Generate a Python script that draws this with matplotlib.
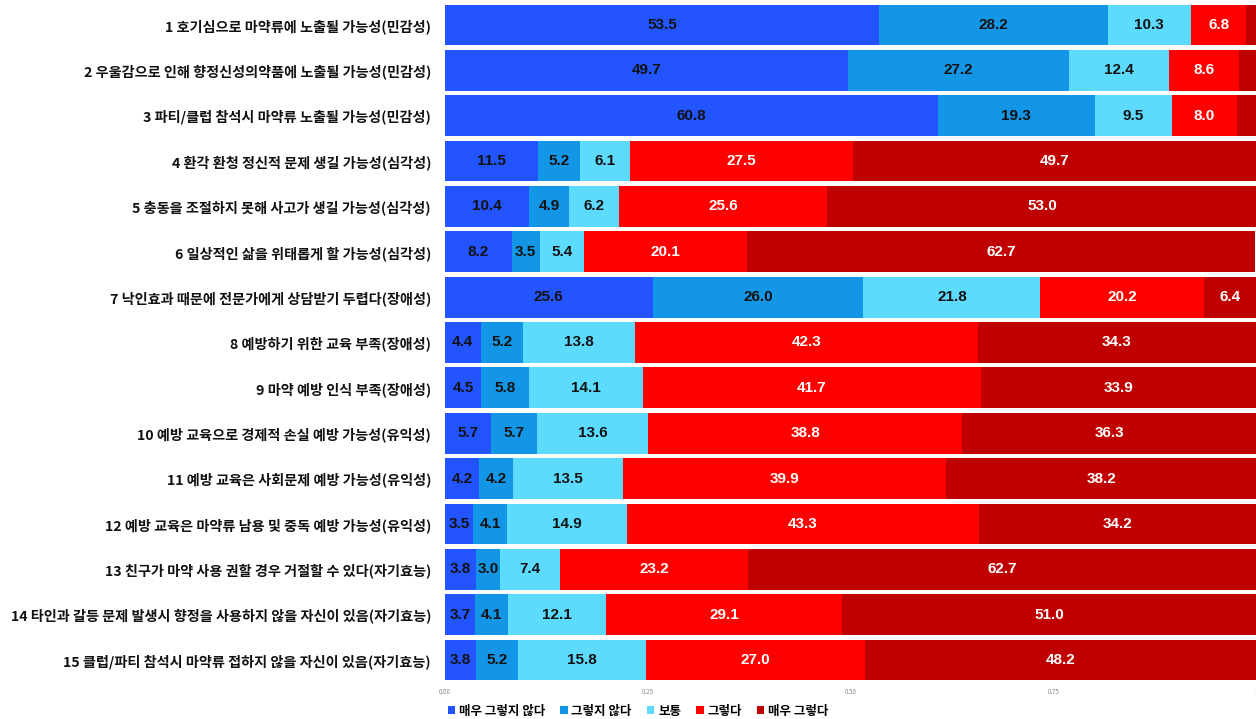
import matplotlib.pyplot as plt
import numpy as np

plt.rcParams['font.family'] = ['Noto Sans CJK KR', 'DejaVu Sans']

# ==============================
# Data (percent per answer)
# ==============================
items = [
    "1 호기심으로 마약류에 노출될 가능성(민감성)",
    "2 우울감으로 인해 향정신성의약품에 노출될 가능성(민감성)",
    "3 파티/클럽 참석시 마약류 노출될 가능성(민감성)",
    "4 환각 환청 정신적 문제 생길 가능성(심각성)",
    "5 충동을 조절하지 못해 사고가 생길 가능성(심각성)",
    "6 일상적인 삶을 위태롭게 할 가능성(심각성)",
    "7 낙인효과 때문에 전문가에게 상담받기 두렵다(장애성)",
    "8 예방하기 위한 교육 부족(장애성)",
    "9 마약 예방 인식 부족(장애성)",
    "10 예방 교육으로 경제적 손실 예방 가능성(유익성)",
    "11 예방 교육은 사회문제 예방 가능성(유익성)",
    "12 예방 교육은 마약류 남용 및 중독 예방 가능성(유익성)",
    "13 친구가 마약 사용 권할 경우 거절할 수 있다(자기효능)",
    "14 타인과 갈등 문제 발생시 향정을 사용하지 않을 자신이 있음(자기효능)",
    "15 클럽/파티 참석시 마약류 접하지 않을 자신이 있음(자기효능)",
]

answers = ["매우 그렇지 않다", "그렇지 않다", "보통", "그렇다", "매우 그렇다"]

very_disagree = [53.5, 49.7, 60.8, 11.5, 10.4, 8.2, 25.6, 4.4, 4.5, 5.7, 4.2, 3.5, 3.8, 3.7, 3.8]
disagree      = [28.2, 27.2, 19.3, 5.2, 4.9, 3.5, 26.0, 5.2, 5.8, 5.7, 4.2, 4.1, 3.0, 4.1, 5.2]
neutral       = [10.3, 12.4, 9.5, 6.1, 6.2, 5.4, 21.8, 13.8, 14.1, 13.6, 13.5, 14.9, 7.4, 12.1, 15.8]
agree         = [6.8, 8.6, 8.0, 27.5, 25.6, 20.1, 20.2, 42.3, 41.7, 38.8, 39.9, 43.3, 23.2, 29.1, 27.0]
very_agree    = [1.2, 2.1, 2.4, 49.7, 53.0, 62.7, 6.4, 34.3, 33.9, 36.3, 38.2, 34.2, 62.7, 51.0, 48.2]

series = [very_disagree, disagree, neutral, agree, very_agree]
colors = ['#2255FF', '#1496E6', '#5DDBFF', '#FF0000', '#C00000']
text_colors = ['#111111', '#111111', '#111111', 'white', 'white']

# ==============================
# Plot
# ==============================
fig = plt.figure(figsize=(12.56, 7.19), dpi=100)
ax = fig.add_axes([0.3543, 0.0505, 0.6457, 0.9463])

y = np.arange(len(items))
left = np.zeros(len(items))
for vals, col, tcol, name in zip(series, colors, text_colors, answers):
    frac = np.array(vals) / 100
    ax.barh(y, frac, left=left, height=0.9, color=col, label=name,
            edgecolor='none')
    for yi, (l, f, v) in enumerate(zip(left, frac, vals)):
        if v >= 3:
            ax.text(l + f / 2, yi, f"{v:.1f}", ha='center', va='center',
                    color=tcol, fontsize=11, fontweight='bold',
                    family=['Liberation Sans', 'DejaVu Sans'])
    left += frac

ax.set_xlim(0, 1)
ax.set_ylim(len(items) - 0.5, -0.5)
ax.set_yticks(y)
ax.set_yticklabels(items, fontsize=10.2, fontweight='bold', color='#111111')
ax.set_xticks([0, 0.25, 0.5, 0.75, 1.0])
ax.set_xticklabels(['0.00', '0.25', '0.50', '0.75', '1'], fontsize=4.5, color='#888888')
ax.tick_params(axis='both', length=0)
ax.tick_params(axis='y', pad=10)
for s in ax.spines.values():
    s.set_visible(False)

fig.legend(loc='center', bbox_to_anchor=(0.508, 0.011), ncol=5, frameon=False,
           handlelength=0.6, handleheight=0.6, handletextpad=0.3, columnspacing=1.2,
           prop={'family': ['Noto Sans CJK KR', 'DejaVu Sans'], 'weight': 'bold', 'size': 9})

plt.savefig("out.png", dpi=100)
plt.close()
